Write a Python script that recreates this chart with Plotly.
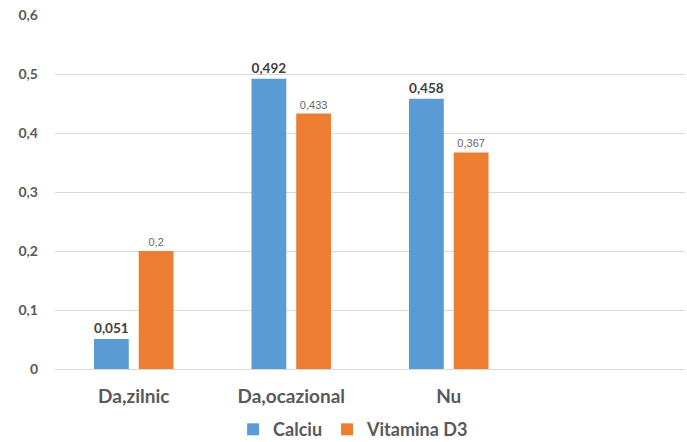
import plotly.graph_objects as go

# Survey answers and share of respondents taking each supplement
categories = ["Da,zilnic", "Da,ocazional", "Nu"]
calciu = [0.051, 0.492, 0.458]
vitamina_d3 = [0.2, 0.433, 0.367]
y_ticks = [0, 0.1, 0.2, 0.3, 0.4, 0.5, 0.6]


def ro(v):
    # Romanian decimal comma
    return f"{v:g}".replace(".", ",")


BLUE = "#5B9BD5"
ORANGE = "#ED7D31"
TEXT = "#595959"
FONT = "Lato, Open Sans, sans-serif"

fig = go.Figure()
fig.add_trace(go.Bar(
    name="Calciu", x=categories, y=calciu,
    marker=dict(color=BLUE, line=dict(width=0)),
    text=[ro(v) for v in calciu], textposition="outside",
    textfont=dict(family=FONT, size=17, color="#404040", weight="bold"),
    cliponaxis=False, hoverinfo="skip",
))
fig.add_trace(go.Bar(
    name="Vitamina D3", x=categories, y=vitamina_d3,
    marker=dict(color=ORANGE, line=dict(width=0)),
    text=[ro(v) for v in vitamina_d3], textposition="outside",
    textfont=dict(family="Liberation Sans, sans-serif", size=11, color="#666666"),
    cliponaxis=False, hoverinfo="skip",
))

fig.update_layout(
    width=687, height=442,
    margin=dict(l=55, r=2, t=15, b=73, autoexpand=False),
    paper_bgcolor="white", plot_bgcolor="white",
    barmode="group", bargap=0.432, bargroupgap=0.222,
    separators=",.",
    font=dict(family=FONT, color=TEXT),
    showlegend=True,
    legend=dict(
        orientation="h", x=0.474, xanchor="center",
        yref="container", y=0.028, yanchor="middle",
        font=dict(family=FONT, size=18, color=TEXT, weight="bold"),
        itemwidth=30, tracegroupgap=0,
    ),
    xaxis=dict(
        type="category", categoryorder="array", categoryarray=categories,
        range=[-0.5, 3.5], showgrid=False, showline=False, zeroline=False,
        ticks="", ticklabelstandoff=14, automargin=False,
        tickfont=dict(family=FONT, size=19, color=TEXT, weight="bold"),
    ),
    yaxis=dict(
        range=[0, 0.6], tickvals=y_ticks, ticktext=[ro(v) for v in y_ticks],
        showgrid=True, gridcolor="#D9D9D9", gridwidth=1,
        zeroline=True, zerolinecolor="#D9D9D9", zerolinewidth=1,
        showline=False, ticks="", ticklabelstandoff=16, automargin=False,
        tickfont=dict(family=FONT, size=14, color=TEXT, weight="bold"),
    ),
)

fig.write_html("out.html")
